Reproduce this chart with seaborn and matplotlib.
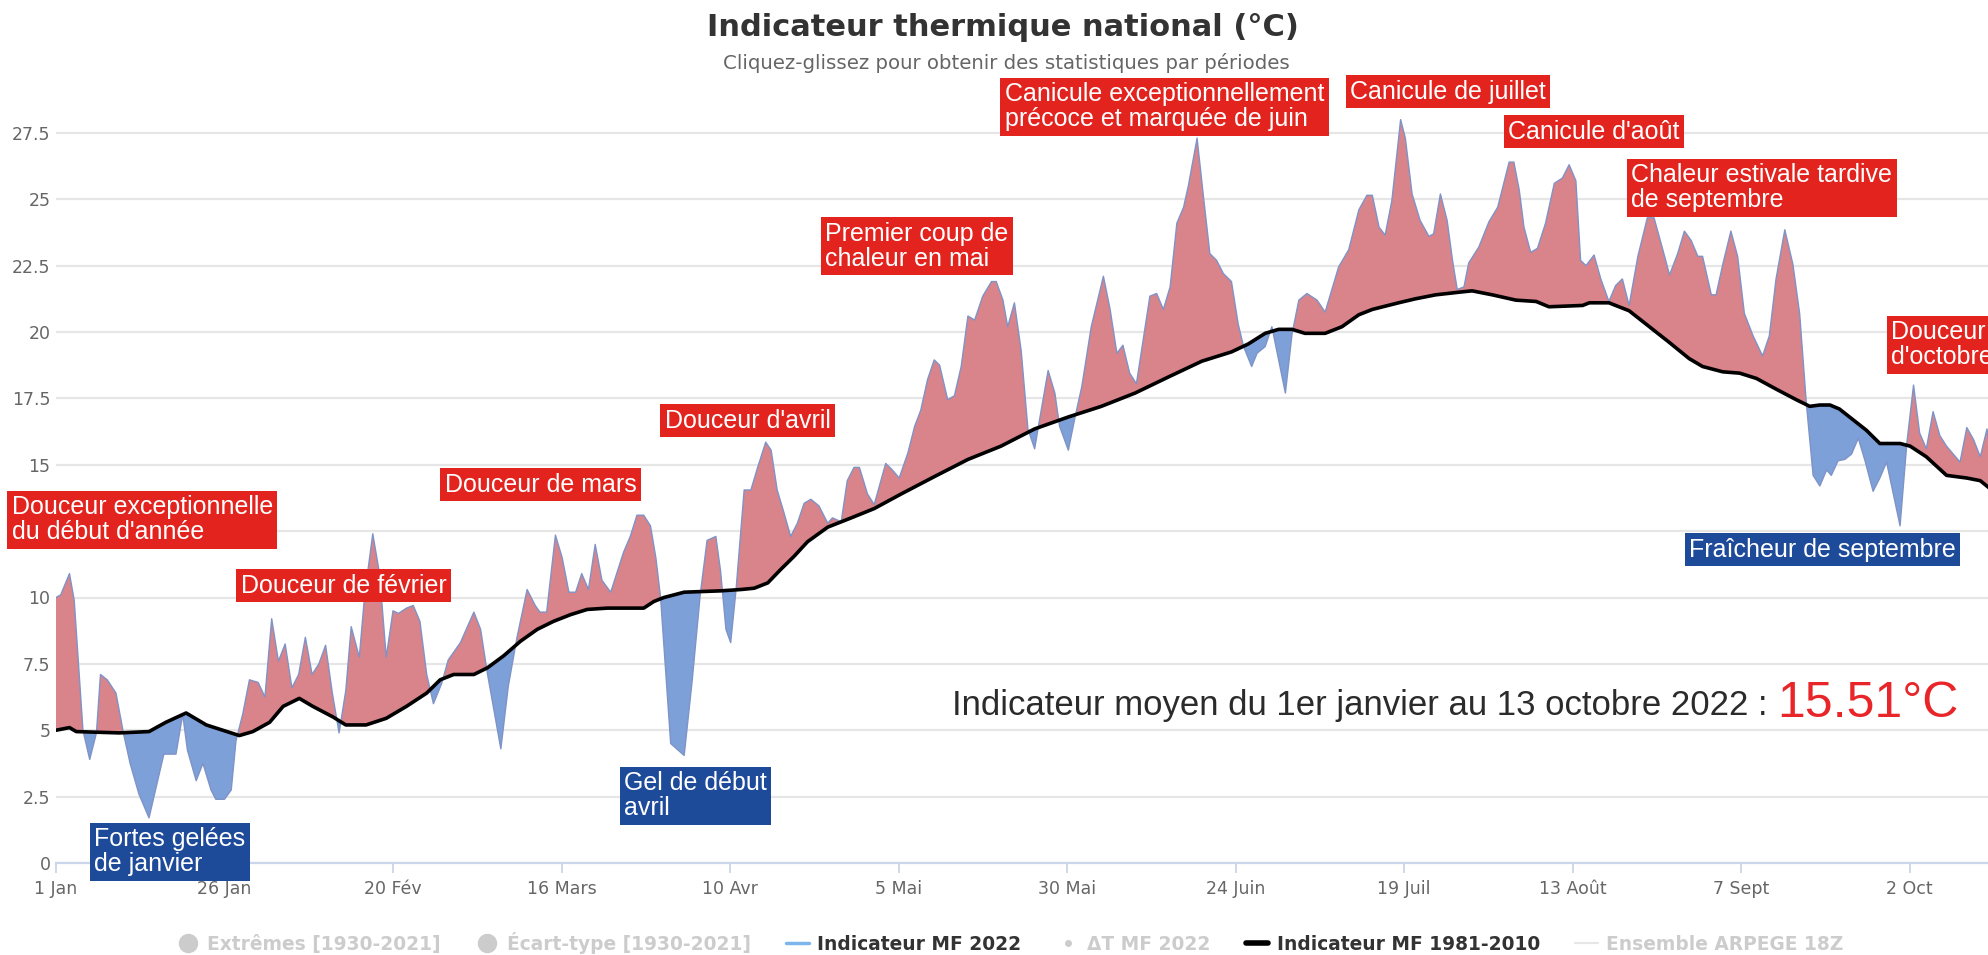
import numpy as np
import pandas as pd
import matplotlib
matplotlib.use("Agg")
import matplotlib.pyplot as plt
from matplotlib.lines import Line2D
import seaborn as sns

# Indicateur thermique national 2022 (day index from 1 Jan, °C)
days_2022 = [0, 0.7, 2, 2.7, 4, 5, 6, 6.6, 7.6, 8.9, 10, 11, 12.3, 13.8, 15, 16, 17.8, 18.8,
             19.5, 20.8, 21.8, 23, 23.7, 25, 26, 26.7, 27.7, 28.7, 30, 31, 32, 33, 34, 35,
             36, 37, 38, 39, 40, 41, 42, 43, 43.8, 45, 45.8, 47, 48, 49, 50, 50.8, 52, 53,
             54, 55, 56, 57.2, 58.2, 60, 62, 63, 64, 66, 67.1, 68.4, 69.9, 71.1, 71.8, 72.8,
             74.1, 75.1, 76.1, 77.1, 78, 79, 80, 81, 82.3, 84.2, 85.2, 86.2, 87.2, 88.2, 89,
             89.7, 91.2, 93.2, 94.4, 95.6, 96.6, 97.9, 98.6, 99.4, 100.1, 100.9, 102.1, 103.1,
             104.1, 105.3, 106.1, 107, 108, 109, 110, 111, 112, 113.2, 114.5, 115.2, 116.5,
             117.4, 118.4, 119.2, 120.4, 121.4, 123.1, 124.1, 125.1, 126.4, 127.4, 128.3,
             129.3, 130.3, 131.1, 132.3, 133.3, 134.3, 135.3, 136.3, 137.5, 138.8, 139.5,
             140.5, 141.2, 142.2, 143.2, 144.2, 145.2, 146, 147.2, 148.2, 148.9, 150.2, 151.2,
             152.2, 153.6, 155.4, 156.4, 157.4, 158.3, 159.3, 160.3, 161.3, 162.3, 163.3,
             164.3, 165.3, 166.3, 167.3, 168, 169.3, 170.2, 171.2, 172.2, 173.2, 174.4, 175.4,
             176.2, 177.4, 178.2, 179.4, 180.4, 181.4, 182.4, 183.4, 184.4, 185.6, 187.1,
             188.3, 189.3, 190.3, 191.8, 193.3, 194.5, 195.3, 196.3, 197.2, 198.2, 199.5,
             200.2, 201.2, 202.4, 203.7, 204.4, 205.4, 206.4, 207.2, 207.9, 208.9, 209.6,
             211.1, 212.6, 213.9, 214.8, 215.6, 216.3, 217.1, 217.8, 218.8, 219.8, 221, 222.3,
             223.5, 224.5, 225.5, 226.2, 227, 228.2, 229.2, 230.4, 231.4, 232.4, 233.4, 234.7,
             236.1, 237.1, 238.4, 239.4, 240.6, 241.6, 242.6, 243.6, 244.3, 245.6, 246.3,
             247.3, 248.5, 249.5, 250.5, 251.8, 253.2, 254.2, 255.2, 256.5, 257.7, 258.7,
             259.7, 260.7, 261.7, 262.7, 263.4, 264.4, 265.4, 266.4, 267.4, 268.4, 269.6,
             270.6, 271.6, 272.6, 273.6, 274.6, 275.6, 276.5, 277.5, 278.5, 279.5, 280.5,
             281.5, 282.5, 283.5, 284.5, 285.5, 286.5, 287.2]
temp_2022 = [10.0, 10.1, 10.9, 9.9, 5.0, 3.9, 4.9, 7.1, 6.9, 6.4, 4.9, 3.75, 2.6, 1.7, 3.0, 4.1,
             4.1, 5.6, 4.25, 3.1, 3.75, 2.75, 2.4, 2.4, 2.75, 4.6, 5.6, 6.9, 6.8, 6.25, 9.2, 7.6,
             8.25, 6.6, 7.1, 8.5, 7.1, 7.5, 8.2, 6.4, 4.9, 6.5, 8.9, 7.75, 10.1, 12.4, 10.9,
             7.75, 9.5, 9.4, 9.6, 9.7, 9.1, 7.1, 6.0, 6.75, 7.65, 8.3, 9.45, 8.8, 7.15, 4.3,
             6.65, 8.5, 10.3, 9.7, 9.45, 9.45, 12.35, 11.5, 10.2, 10.2, 10.9, 10.3, 12.0, 10.65,
             10.2, 11.7, 12.3, 13.1, 13.1, 12.7, 11.5, 10.0, 4.5, 4.05, 6.9, 10.15, 12.15, 12.3,
             11.0, 8.8, 8.3, 10.3, 14.05, 14.05, 14.9, 15.85, 15.55, 14.05, 13.2, 12.3, 12.8,
             13.55, 13.7, 13.45, 12.8, 13.0, 12.85, 14.4, 14.9, 14.9, 13.9, 13.5, 15.05, 14.8,
             14.5, 15.45, 16.45, 17.05, 18.2, 18.95, 18.75, 17.45, 17.6, 18.7, 20.6, 20.45,
             21.35, 21.9, 21.9, 21.2, 20.2, 21.1, 19.3, 16.35, 15.6, 16.8, 18.55, 17.7, 16.45,
             15.55, 16.8, 17.95, 20.2, 22.1, 20.85, 19.2, 19.5, 18.45, 18.05, 19.7, 21.35,
             21.45, 20.85, 21.7, 24.1, 24.7, 25.5, 27.3, 25.2, 22.95, 22.7, 22.2, 21.9, 20.3,
             19.45, 18.7, 19.2, 19.45, 20.2, 18.95, 17.7, 19.95, 21.2, 21.45, 21.2, 20.75, 21.6,
             22.45, 23.1, 24.6, 25.15, 25.15, 23.95, 23.65, 24.95, 28.0, 27.3, 25.2, 24.2, 23.6,
             23.7, 25.2, 24.2, 22.7, 21.6, 21.7, 22.6, 23.2, 24.15, 24.7, 25.6, 26.4, 26.4,
             25.35, 23.95, 23.0, 23.15, 24.1, 25.6, 25.8, 26.3, 25.7, 22.7, 22.5, 22.9, 22.0,
             21.15, 21.75, 22.0, 21.0, 22.85, 24.3, 24.3, 23.1, 22.15, 22.95, 23.8, 23.45,
             22.85, 22.85, 21.4, 21.4, 22.55, 23.8, 22.85, 20.7, 19.85, 19.1, 19.85, 22.0,
             23.85, 22.55, 20.7, 17.3, 14.6, 14.2, 14.8, 14.6, 15.15, 15.2, 15.4, 16.0, 15.15,
             14.0, 14.5, 15.1, 13.9, 12.7, 15.8, 18.0, 16.2, 15.6, 17.0, 16.1, 15.7, 15.4, 15.1,
             16.4, 15.95, 15.3, 16.35, 15.15]

# Normale 1981-2010
days_norm = [0, 2, 3, 9.4, 13.8, 16.3, 19.3, 22.3, 27.2, 29.2, 31.7, 33.7, 36.1, 38.1, 41.1,
             43, 46, 49, 52, 55, 57, 59, 62, 64, 66.4, 68.9, 71.4, 73.8, 76.3, 78.8, 81.8,
             87.2, 88.7, 90.2, 93.2, 98.6, 101.6, 103.6, 105.6, 107.5, 109.5, 111.5, 114.5,
             118, 121.4, 125.4, 130.3, 135.3, 140.2, 145.2, 150.2, 155.1, 160.1, 165, 170,
             174.4, 176.9, 179.4, 181.4, 183.4, 185.3, 188.3, 190.8, 193.3, 195.3, 199.2,
             201.7, 204.7, 208.2, 210.1, 213.1, 216.6, 219.6, 221.5, 226.5, 227.5, 230.4,
             233.4, 236.4, 239.4, 242.3, 244.3, 247.3, 249.8, 252.3, 255.2, 258.2, 260.2,
             261.7, 263.2, 264.6, 266.6, 268.6, 270.6, 273.6, 275.1, 277.5, 280.5, 283.5,
             285.5, 287.2]
temp_norm = [5.0, 5.1, 4.95, 4.9, 4.95, 5.3, 5.65, 5.2, 4.8, 4.95, 5.3, 5.9, 6.2, 5.9, 5.5,
             5.2, 5.2, 5.45, 5.9, 6.4, 6.9, 7.1, 7.1, 7.35, 7.8, 8.35, 8.8, 9.1, 9.35, 9.55,
             9.6, 9.6, 9.85, 10.0, 10.2, 10.25, 10.3, 10.35, 10.55, 11.05, 11.55, 12.1, 12.65,
             13.0, 13.35, 13.9, 14.55, 15.2, 15.7, 16.35, 16.8, 17.2, 17.7, 18.3, 18.9, 19.25,
             19.55, 19.95, 20.1, 20.1, 19.95, 19.95, 20.2, 20.65, 20.85, 21.1, 21.25, 21.4,
             21.5, 21.55, 21.4, 21.2, 21.15, 20.95, 21.0, 21.1, 21.1, 20.8, 20.2, 19.6, 19.0,
             18.7, 18.5, 18.45, 18.25, 17.85, 17.45, 17.2, 17.25, 17.25, 17.1, 16.7, 16.3,
             15.8, 15.8, 15.7, 15.3, 14.6, 14.5, 14.4, 14.05]

tick_days = [0, 25, 50, 75, 100, 125, 150, 175, 200, 225, 250, 275]
tick_labels = ["1 Jan", "26 Jan", "20 Fév", "16 Mars", "10 Avr", "5 Mai", "30 Mai",
               "24 Juin", "19 Juil", "13 Août", "7 Sept", "2 Oct"]
y_ticks = [0, 2.5, 5, 7.5, 10, 12.5, 15, 17.5, 20, 22.5, 25, 27.5]
# 12.5 is hidden behind the first annotation box in the original
y_labels = ["0", "2.5", "5", "7.5", "10", "", "15", "17.5", "20", "22.5", "25", "27.5"]

# Événements annotés
event_labels = ["Douceur exceptionnelle\ndu début d'année", "Douceur de février",
                "Douceur de mars", "Douceur d'avril", "Premier coup de\nchaleur en mai",
                "Canicule exceptionnellement\nprécoce et marquée de juin",
                "Canicule de juillet", "Canicule d'août",
                "Chaleur estivale tardive\nde septembre", "Douceur\nd'octobre",
                "Fortes gelées\nde janvier", "Gel de début\navril", "Fraîcheur de septembre"]
event_kinds = ["chaud"] * 10 + ["froid"] * 3
event_pos = [(-6.6, 13.85), (27.4, 10.9), (57.7, 14.7), (90.3, 17.1), (114.1, 24.15),
             (140.8, 29.4), (192.0, 29.5), (215.5, 28.0), (233.7, 26.35), (272.3, 20.45),
             (5.7, 1.35), (84.3, 3.45), (242.3, 12.25)]

RED_FILL = "#d9838a"
BLUE_FILL = "#7da0d8"
RED_BOX = "#e2231e"
BLUE_BOX = "#1e4a9a"

sns.set_theme(style="white")
plt.rcParams['font.family'] = ['DejaVu Sans']

fig = plt.figure(figsize=(19.88, 9.55), dpi=100)
W, H = 1988, 955
ax = fig.add_axes([56 / W, 1 - 863 / H, 1 - 56 / W, (863 - 75) / H])

df22 = pd.DataFrame({"jour": days_2022, "temp": temp_2022})
dfn = pd.DataFrame({"jour": days_norm, "temp": temp_norm})

# fill between the 2022 indicator and the normal
grid = np.union1d(days_2022, days_norm)
y22 = np.interp(grid, days_2022, temp_2022)
ynorm = np.interp(grid, days_norm, temp_norm)
ax.fill_between(grid, ynorm, y22, where=y22 >= ynorm, interpolate=True,
                color=RED_FILL, lw=0, zorder=2)
ax.fill_between(grid, ynorm, y22, where=y22 < ynorm, interpolate=True,
                color=BLUE_FILL, lw=0, zorder=2)

sns.lineplot(data=df22, x="jour", y="temp", ax=ax, color="#7f93c6", lw=1.0, zorder=3)
sns.lineplot(data=dfn, x="jour", y="temp", ax=ax, color="black", lw=2.6, zorder=4)

ax.set_xlim(0, (W - 56) / 6.74)
ax.set_ylim(0, (863 - 75) / 26.55)
ax.set_xticks(tick_days)
ax.set_xticklabels(tick_labels)
ax.set_yticks(y_ticks)
ax.set_yticklabels(y_labels)
ax.set_xlabel("")
ax.set_ylabel("")
ax.grid(axis="y", color="#e6e6e6", lw=1.6, zorder=0)
ax.grid(axis="x", visible=False)
for s in ["top", "right", "left"]:
    ax.spines[s].set_visible(False)
ax.spines["bottom"].set_color("#ccd6eb")
ax.spines["bottom"].set_linewidth(1.6)
ax.tick_params(axis="x", length=7, width=1.3, color="#ccd6eb", pad=5,
               labelsize=12.5, labelcolor="#666666", bottom=True)
ax.tick_params(axis="y", length=0, pad=4, labelsize=12.5, labelcolor="#666666")

for label, kind, (dx, dy) in zip(event_labels, event_kinds, event_pos):
    ax.text(dx, dy, label, ha="left", va="top", fontsize=18, color="white",
            family="Liberation Sans", linespacing=1.05, zorder=6, clip_on=False,
            bbox=dict(boxstyle="square,pad=0.18", fc=RED_BOX if kind == "chaud" else BLUE_BOX,
                      ec="none"))

fig.text(1767 / W, 1 - 715 / H, "Indicateur moyen du 1er janvier au 13 octobre 2022 :",
         ha="right", va="baseline", fontsize=25, color="#2b2b2b", family="Liberation Sans")
fig.text(1777 / W, 1 - 717 / H, "15.51°C", ha="left", va="baseline", fontsize=36,
         color="#e8262a", family="Liberation Sans")

fig.text(1003 / W, 1 - 27 / H, "Indicateur thermique national (°C)", ha="center",
         va="center", fontsize=22, fontweight="bold", color="#333333")
fig.text(1006 / W, 1 - 63 / H, "Cliquez-glissez pour obtenir des statistiques par périodes",
         ha="center", va="center", fontsize=14.2, color="#666666")

# legend
handles = [
    Line2D([], [], marker="o", ls="None", color="#cccccc", markersize=13),
    Line2D([], [], marker="o", ls="None", color="#cccccc", markersize=13),
    Line2D([], [], color="#7cb5ec", lw=2.5),
    Line2D([], [], marker="o", ls="None", color="#cccccc", markersize=4),
    Line2D([], [], color="black", lw=4),
    Line2D([], [], color="#e6e6e6", lw=1.5),
]
leg_labels = ["Extrêmes [1930-2021]", "Écart-type [1930-2021]", "Indicateur MF 2022",
              "ΔT MF 2022", "Indicateur MF 1981-2010", "Ensemble ARPEGE 18Z"]
leg_colors = ["#cccccc", "#cccccc", "#333333", "#cccccc", "#333333", "#cccccc"]
leg = fig.legend(handles, leg_labels, loc="center", bbox_to_anchor=(1010 / W, 1 - 943 / H),
                 ncol=6, frameon=False, prop={"size": 13.4, "weight": "bold"},
                 handlelength=1.2, handletextpad=0.45, columnspacing=1.9)
for t, c in zip(leg.get_texts(), leg_colors):
    t.set_color(c)

fig.savefig("out.png", dpi=100)
